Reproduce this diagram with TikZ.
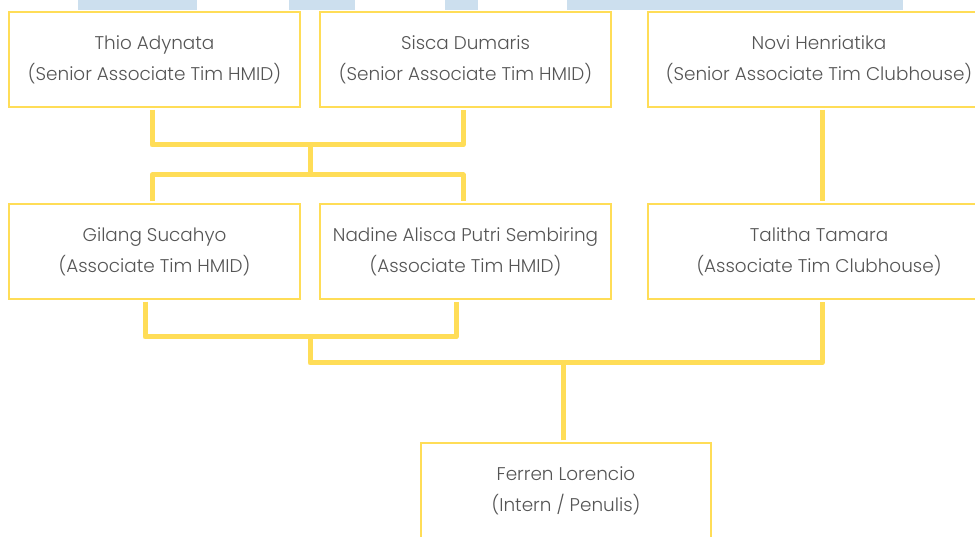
\documentclass[tikz,border=0pt]{standalone}
\usepackage{fontspec}
\setmainfont{Poppins}[UprightFont=* Light]
\usetikzlibrary{calc}
\definecolor{ylw}{HTML}{FFDD57}
\definecolor{lblue}{HTML}{CCDFEE}
\definecolor{txt}{HTML}{555555}
\tikzset{
  box/.style={draw=ylw, line width=2.6pt, fill=white, minimum height=95pt, text=txt,
    align=center, inner sep=0pt, font=\fontsize{18.4}{31}\selectfont},
  conn/.style={draw=ylw, line width=5pt, line join=round},
  band/.style={fill=lblue, draw=none}
}
\begin{document}
\begin{tikzpicture}[x=1pt,y=-1pt]
\useasboundingbox (0,0) rectangle (975,537);
% top bands
\fill[band] (78,-5) rectangle (197,10);
\fill[band] (289,-5) rectangle (355,10);
\fill[band] (445,-5) rectangle (478,10);
\fill[band] (567,-5) rectangle (903,10);
% boxes
\node[box, minimum width=291pt] (thio) at (154.5,59.5) {Thio Adynata\\(Senior Associate Tim HMID)};
\node[box, minimum width=291pt] (sisca) at (465.5,59.5) {Sisca Dumaris\\(Senior Associate Tim HMID)};
\node[box, minimum width=342pt] (novi) at (819,59.5) {Novi Henriatika\\(Senior Associate Tim Clubhouse)};
\node[box, minimum width=291pt] (gilang) at (154.5,251.5) {Gilang Sucahyo\\(Associate Tim HMID)};
\node[box, minimum width=291pt] (nadine) at (465.5,251.5) {Nadine Alisca Putri Sembiring\\(Associate Tim HMID)};
\node[box, minimum width=342pt] (talitha) at (819,251.5) {Talitha Tamara\\(Associate Tim Clubhouse)};
\node[box, minimum width=290pt] (ferren) at (566,490.5) {Ferren Lorencio\\(Intern / Penulis)};
% junctions
\coordinate (j1) at (310,145);
\coordinate (j2) at (310,175);
\coordinate (j3) at (310,337);
\coordinate (j4) at (310,363);
% connectors
\draw[conn] ([xshift=-2.5pt,yshift=-1.3pt]thio.south) |- (j1) -| ([xshift=-2.5pt,yshift=-1.3pt]sisca.south);
\draw[conn] (j1) -- (j2);
\draw[conn] ([xshift=-2.5pt,yshift=1.3pt]gilang.north) |- (j2) -| ([xshift=-2.5pt,yshift=1.3pt]nadine.north);
\draw[conn] ([xshift=3pt,yshift=-1.3pt]novi.south) -- ([xshift=3pt,yshift=1.3pt]talitha.north);
\draw[conn] ([xshift=-9.5pt,yshift=-1.3pt]gilang.south) |- (j3) -| ([xshift=-9.5pt,yshift=-1.3pt]nadine.south);
\draw[conn] (j3) -- (j4) -| ([xshift=3pt,yshift=-1.3pt]talitha.south);
\draw[conn] ([xshift=-3pt,yshift=1.3pt]ferren.north) -- ([xshift=-3pt]ferren.north |- j4);
\end{tikzpicture}
\end{document}
